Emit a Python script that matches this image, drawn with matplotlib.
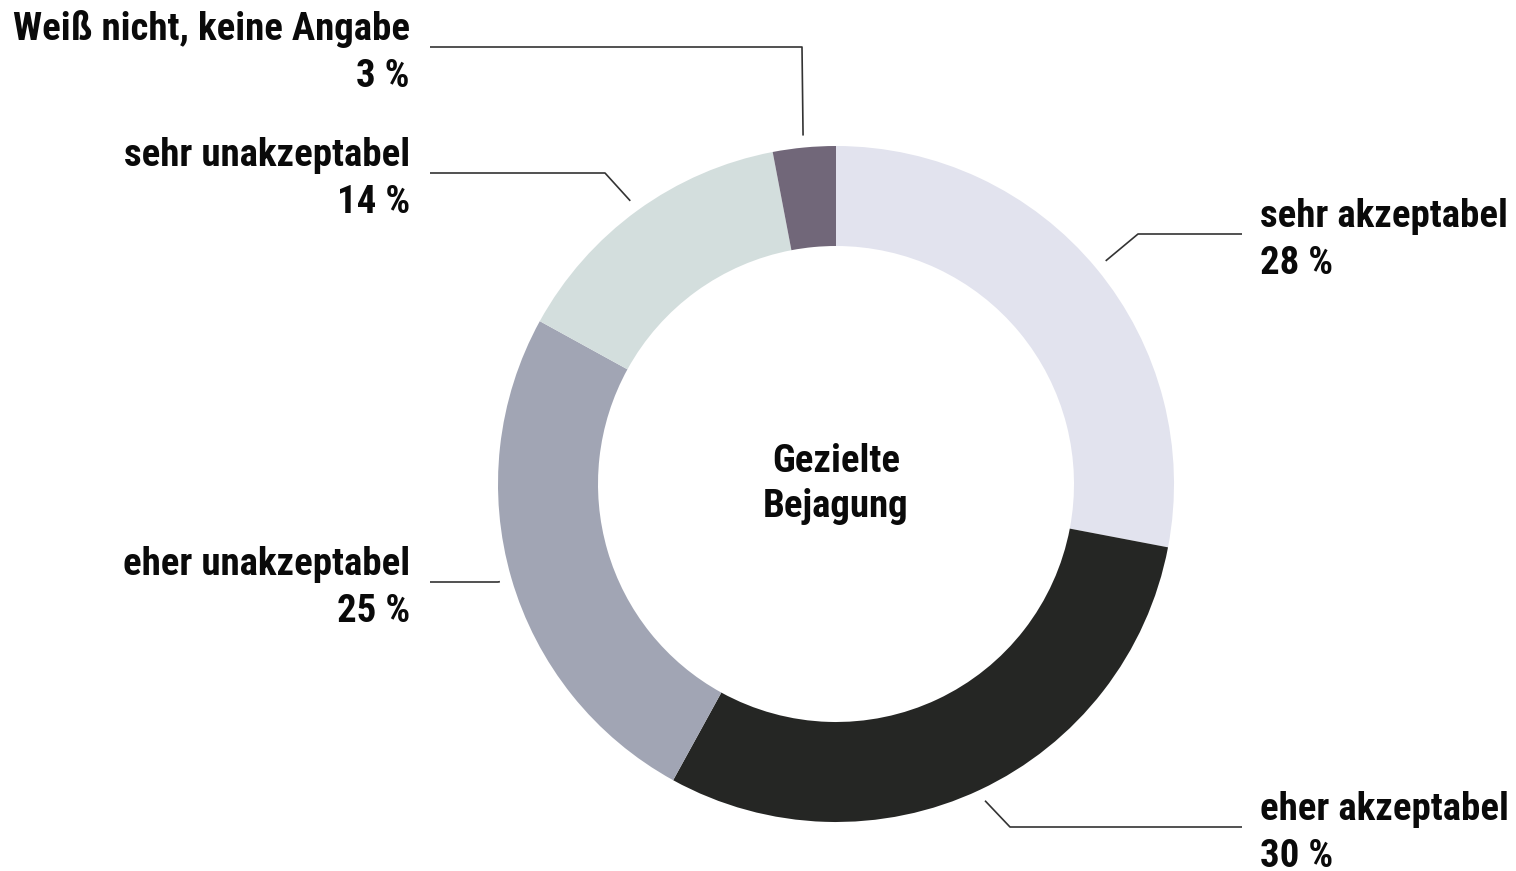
import numpy as np
import matplotlib
matplotlib.use("Agg")
import matplotlib.pyplot as plt

# ---- data ----
categories = ["sehr akzeptabel", "eher akzeptabel", "eher unakzeptabel",
              "sehr unakzeptabel", "Weiß nicht, keine Angabe"]
values = [28, 30, 25, 14, 3]
colors = ["#e2e3ee", "#252624", "#a1a5b4", "#d3dedd", "#716779"]
center_title = "Gezielte\nBejagung"

# ---- layout (pixels, origin top-left) ----
W, H = 1516, 871
cx, cy_px, R, ring = 836, 484, 338, 100
# per label: elbow point, end x of horizontal leader, side
elbows = [(1138, 234), (1010, 827), (498, 582), (605, 173), (802, 47)]
ends = [1242, 1242, 430, 430, 430]
sides = ["right", "right", "left", "left", "left"]

FONT = ["Roboto Condensed", "PT Sans Narrow", "DejaVu Sans"]
plt.rcParams["font.family"] = FONT
FS = 28

fig = plt.figure(figsize=(W / 100, H / 100), dpi=100)
ax = fig.add_axes([0, 0, 1, 1])
ax.set_xlim(0, W)
ax.set_ylim(0, H)
ax.set_aspect("equal")
ax.axis("off")

def Y(py):
    return H - py

wedges, _ = ax.pie(values, colors=colors, startangle=90, counterclock=False,
                   radius=R, center=(cx, Y(cy_px)),
                   wedgeprops=dict(width=ring, edgecolor="none", linewidth=0))
ax.set_xlim(0, W)
ax.set_ylim(0, H)

r_lead = 350
for w, cat, val, (ex, ey), endx, side in zip(wedges, categories, values, elbows, ends, sides):
    ang = np.deg2rad((w.theta1 + w.theta2) / 2)
    sx = cx + r_lead * np.cos(ang)
    sy = Y(cy_px) + r_lead * np.sin(ang)
    ax.plot([sx, ex, endx], [sy, Y(ey), Y(ey)], color="#333333", lw=1.2,
            solid_capstyle="butt")
    if side == "right":
        tx, ha = 1260, "left"
    else:
        tx, ha = 410, "right"
    ax.text(tx, Y(ey - 7), cat, ha=ha, va="baseline", fontsize=FS,
            fontweight="bold", color="#0a0a0a")
    ax.text(tx, Y(ey + 40), f"{val} %", ha=ha, va="baseline", fontsize=FS,
            fontweight="bold", color="#0a0a0a")

ax.text(cx, Y(cy_px), center_title, ha="center", va="center", fontsize=FS,
        fontweight="bold", color="#0a0a0a", linespacing=1.3)

fig.savefig("out.png", dpi=100, facecolor="white")
